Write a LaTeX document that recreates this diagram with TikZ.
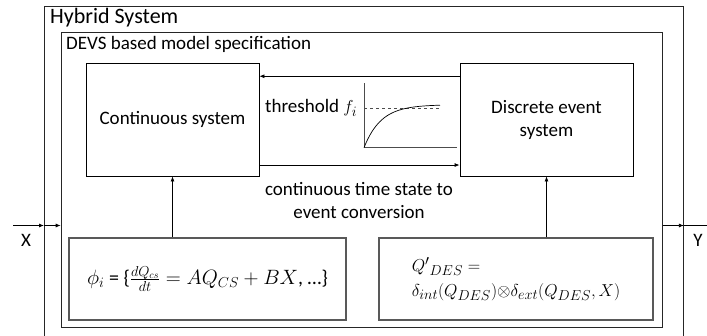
\documentclass[tikz,border=0pt]{standalone}
\usepackage{fontspec}
\setmainfont{Carlito}
\usetikzlibrary{arrows.meta,calc}

\tikzset{
  frame/.style={draw=black!85,line width=0.9pt,inner sep=0pt,anchor=north west},
  block/.style={draw,line width=0.8pt,inner sep=0pt,align=center,font=\fontsize{19}{23}\selectfont},
  eqbox/.style={draw=black!65,line width=1.3pt,inner sep=0pt,font=\fontsize{20}{23}\selectfont},
  flow/.style={line width=0.8pt,-{Latex[length=5pt,width=4pt]}},
  caption/.style={inner sep=0pt,anchor=north west},
}

\begin{document}
\begin{tikzpicture}[x=1pt,y=-1pt]
%     Page :
      \clip (0,0) rectangle (707,335);
%     Cadres :
      \node[frame,minimum width=639pt,minimum height=345pt] (hybrid) at (44,6) {};
      \node[caption,font=\fontsize{22}{26}\selectfont] at (50,8) {Hybrid System};
      \node[frame,minimum width=601pt,minimum height=295pt] (devs) at (60.7,31.7) {};
      \node[caption,font=\fontsize{19}{23}\selectfont] at (66,36) {DEVS based model specification};
%     Blocs :
      \node[block,minimum width=173pt,minimum height=113pt] (cs) at (172.5,119.5) {Continuous system};
      \node[block,minimum width=173pt,minimum height=113pt] (des) at (546.5,119.5) {Discrete event\\system};
      \node[eqbox,minimum width=277pt,minimum height=82pt] (phi) at (207.5,279)
        {$\phi_i$ = \{$\frac{dQ_{cs}}{dt}=AQ_{CS}+BX$, \dots\}};
      \node[eqbox,minimum width=274pt,minimum height=82pt,align=left,font=\fontsize{19}{23}\selectfont] (qdes) at (516,279)
        {${Q'}_{DES} =$\\[2pt]
         $\delta_{int}(Q_{DES})\mathord{\otimes}\delta_{ext}(Q_{DES},X)$};
%     Liaisons :
      \draw[flow] ($(des.north west)!0.12!(des.south west)$) -- ($(cs.north east)!0.12!(cs.south east)$);
      \draw[flow] ($(cs.north east)!0.9!(cs.south east)$) -- ($(des.north west)!0.9!(des.south west)$);
      \draw[flow] (phi.north -| cs) -- (cs.south);
      \draw[flow] (qdes.north -| des) -- (des.south);
      \node[caption,anchor=west,font=\fontsize{19}{23}\selectfont] (thr) at (265,108) {threshold $f_i$};
      \node[inner sep=0pt,align=center,font=\fontsize{19}{23}\selectfont] (conv) at (359,200)
        {continuous time state to\\event conversion};
%     Tracé du graphe :
      \draw[black!70,line width=0.7pt] (364,83) -- (364,147.7) -- (457,147.7);
      \draw[black!70,dashed,line width=0.7pt] (364,108) -- (440,108);
      \draw[line width=0.7pt] plot[domain=0:76,samples=40,smooth] ({364+\x},{147.7-43*(1-exp(-\x/17))});
%     Entrée et sortie :
      \coordinate (xin) at (13,225.5);
      \coordinate (yout) at (707,225.5);
      \draw[flow] (xin) -- (xin -| hybrid.west);
      \draw[flow] (xin -| hybrid.west) -- (xin -| devs.west);
      \draw[flow] (devs.east |- yout) -- (hybrid.east |- yout);
      \draw[line width=0.8pt] (hybrid.east |- yout) -- (yout);
      \node[font=\fontsize{19}{23}\selectfont] (xlabel) at (26,240) {X};
      \node[font=\fontsize{19}{23}\selectfont] (ylabel) at (698,240) {Y};
\end{tikzpicture}
\end{document}
